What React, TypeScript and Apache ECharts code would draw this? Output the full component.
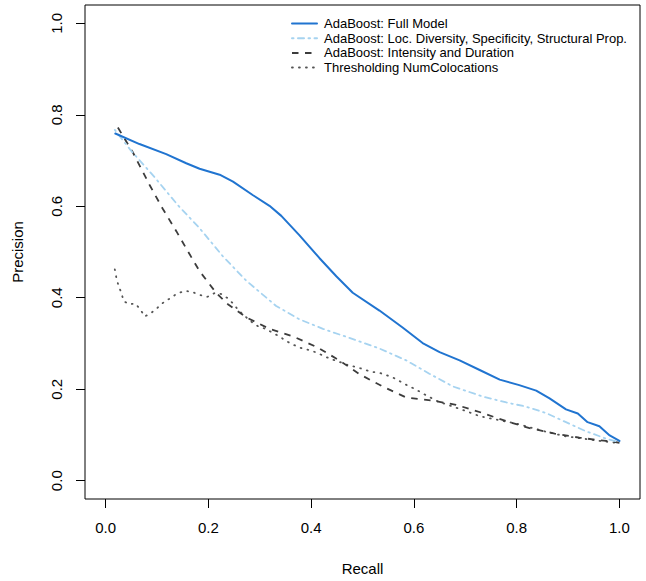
import React, { useEffect, useRef } from "react";
import * as echarts from "echarts";

const fontFamily = '"Liberation Sans", Arial, Helvetica, sans-serif';

const tickValues = [0, 0.2, 0.4, 0.6, 0.8, 1.0];

const seriesNames = [
  "AdaBoost: Full Model",
  "AdaBoost: Loc. Diversity, Specificity, Structural Prop.",
  "AdaBoost: Intensity and Duration",
  "Thresholding NumColocations",
];

const fullRecall = [0.019, 0.066, 0.118, 0.157, 0.183, 0.222, 0.248, 0.287, 0.319, 0.342, 0.377, 0.416, 0.449, 0.481, 0.533, 0.578, 0.617, 0.65, 0.689, 0.728, 0.767, 0.805, 0.838, 0.864, 0.896, 0.919, 0.938, 0.961, 0.981, 1.0];
const fullPrecision = [0.759, 0.736, 0.714, 0.694, 0.682, 0.669, 0.654, 0.624, 0.601, 0.579, 0.537, 0.487, 0.447, 0.411, 0.372, 0.335, 0.301, 0.281, 0.263, 0.242, 0.221, 0.209, 0.197, 0.18, 0.156, 0.147, 0.128, 0.119, 0.099, 0.087];

const locRecall = [0.018, 0.05, 0.095, 0.141, 0.183, 0.228, 0.274, 0.332, 0.377, 0.423, 0.488, 0.533, 0.585, 0.63, 0.676, 0.734, 0.78, 0.818, 0.857, 0.896, 0.935, 0.974, 1.0];
const locPrecision = [0.767, 0.721, 0.664, 0.602, 0.552, 0.491, 0.437, 0.382, 0.353, 0.332, 0.307, 0.289, 0.263, 0.234, 0.206, 0.184, 0.171, 0.162, 0.148, 0.128, 0.108, 0.092, 0.084];

const intRecall = [0.024, 0.053, 0.086, 0.111, 0.138, 0.16, 0.183, 0.215, 0.238, 0.274, 0.319, 0.368, 0.413, 0.455, 0.494, 0.539, 0.585, 0.637, 0.682, 0.731, 0.78, 0.825, 0.874, 0.922, 0.974, 1.0];
const intPrecision = [0.772, 0.718, 0.646, 0.595, 0.545, 0.502, 0.458, 0.411, 0.386, 0.357, 0.332, 0.314, 0.291, 0.263, 0.233, 0.206, 0.182, 0.175, 0.166, 0.149, 0.13, 0.115, 0.103, 0.094, 0.087, 0.083];

const thrRecall = [0.018, 0.021, 0.025, 0.031, 0.035, 0.045, 0.058, 0.068, 0.076, 0.088, 0.1, 0.113, 0.126, 0.139, 0.154, 0.168, 0.183, 0.198, 0.212, 0.225, 0.239, 0.25, 0.259, 0.283, 0.296, 0.311, 0.326, 0.339, 0.352, 0.368, 0.383, 0.398, 0.411, 0.426, 0.441, 0.455, 0.471, 0.486, 0.501, 0.517, 0.532, 0.546, 0.562, 0.575, 0.588, 0.603, 0.617, 0.632, 0.647, 0.661, 0.676, 0.702, 0.728, 0.767, 0.799, 0.831, 0.864, 0.896, 0.929, 0.961, 1.0];
const thrPrecision = [0.462, 0.444, 0.427, 0.41, 0.393, 0.386, 0.387, 0.374, 0.359, 0.366, 0.377, 0.39, 0.399, 0.409, 0.415, 0.413, 0.406, 0.402, 0.41, 0.408, 0.398, 0.385, 0.372, 0.348, 0.338, 0.332, 0.323, 0.315, 0.305, 0.296, 0.289, 0.285, 0.28, 0.272, 0.265, 0.26, 0.253, 0.249, 0.244, 0.238, 0.236, 0.231, 0.224, 0.216, 0.208, 0.2, 0.191, 0.182, 0.173, 0.168, 0.162, 0.152, 0.141, 0.132, 0.125, 0.115, 0.105, 0.097, 0.092, 0.087, 0.082];

const zip = (xs: number[], ys: number[]) => xs.map((x, i) => [x, ys[i]]);

export default function App() {
  const ref = useRef<HTMLDivElement>(null);

  useEffect(() => {
    if (!ref.current) return;
    const chart = echarts.init(ref.current, null, { renderer: "svg" });
    const fmt = (v: number) => v.toFixed(1);
    const axisCommon = {
      type: "value" as const,
      min: -0.04,
      max: 1.04,
      nameLocation: "middle" as const,
      nameTextStyle: { fontSize: 15, color: "#000", fontFamily },
      axisLine: { show: false, onZero: false },
      splitLine: { show: false },
      axisTick: {
        show: true,
        customValues: tickValues,
        length: 9,
        lineStyle: { color: "#000", width: 1 },
      },
      axisLabel: {
        customValues: tickValues,
        formatter: fmt,
        fontSize: 15,
        color: "#000",
        fontFamily,
        margin: 21,
      },
    };
    const lw = 1.8;
    chart.setOption({
      animation: false,
      backgroundColor: "#fff",
      grid: {
        left: 85,
        right: 6,
        top: 5,
        bottom: 78,
        show: true,
        borderColor: "#000",
        borderWidth: 1,
        backgroundColor: "transparent",
      },
      legend: {
        orient: "vertical",
        left: 286,
        top: 12,
        itemWidth: 25,
        itemHeight: 14,
        itemGap: 1.7,
        itemStyle: { opacity: 0 },
        selectedMode: false,
        textStyle: {
          fontSize: 13,
          color: "#000",
          fontFamily,
          padding: [0, 0, 0, 2],
        },
        data: seriesNames,
      },
      xAxis: { ...axisCommon, name: "Recall", nameGap: 62 },
      yAxis: {
        ...axisCommon,
        name: "Precision",
        nameGap: 60,
        axisLabel: { ...axisCommon.axisLabel, rotate: 90 },
      },
      series: [
        {
          name: seriesNames[0],
          type: "line",
          symbol: "none",
          showSymbol: false,
          data: zip(fullRecall, fullPrecision),
          lineStyle: { color: "#2074d0", width: 2, type: "solid", cap: "round", join: "round" },
          itemStyle: { color: "#2074d0" },
          z: 5,
        },
        {
          name: seriesNames[1],
          type: "line",
          symbol: "none",
          showSymbol: false,
          data: zip(locRecall, locPrecision),
          lineStyle: { color: "#a6d3f0", width: lw, type: [1.5, 4.5, 6, 4.5], cap: "round", join: "round" },
          itemStyle: { color: "#a6d3f0" },
          z: 4,
        },
        {
          name: seriesNames[2],
          type: "line",
          symbol: "none",
          showSymbol: false,
          data: zip(intRecall, intPrecision),
          lineStyle: { color: "#3c3c3c", width: lw, type: [6.5, 6.5], cap: "butt", join: "round" },
          itemStyle: { color: "#3c3c3c" },
          z: 3,
        },
        {
          name: seriesNames[3],
          type: "line",
          symbol: "none",
          showSymbol: false,
          data: zip(thrRecall, thrPrecision),
          lineStyle: { color: "#555555", width: lw, type: [0.8, 6.2], cap: "round", join: "round" },
          itemStyle: { color: "#555555" },
          z: 2,
        },
      ],
    });
    return () => chart.dispose();
  }, []);

  return (
    <div
      ref={ref}
      style={{ position: "fixed", left: 0, top: 0, width: 646, height: 581, background: "#fff" }}
    />
  );
}
